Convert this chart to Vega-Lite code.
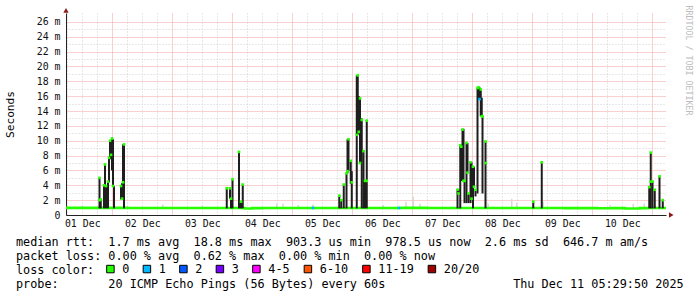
{
  "$schema": "https://vega.github.io/schema/vega-lite/v6.json",
  "width": 600,
  "height": 202,
  "autosize": {"type": "none"},
  "padding": {"left": 66, "top": 13, "right": 31, "bottom": 82},
  "background": "white",
  "config": {"view": {"stroke": null}, "font": "DejaVu Sans Mono"},
  "title": {
    "text": [
      "median rtt:\u00a0\u00a01.7 ms avg\u00a0\u00a018.8 ms max\u00a0\u00a0903.3 us min\u00a0\u00a0978.5 us now\u00a0\u00a02.6 ms sd\u00a0\u00a0646.7 m am/s",
      "packet loss: 0.00 % avg\u00a0\u00a00.62 % max\u00a0\u00a00.00 % min\u00a0\u00a00.00 % now",
      "loss color:",
      "probe:\u00a0\u00a0\u00a0\u00a0\u00a0\u00a0\u00a020 ICMP Echo Pings (56 Bytes) every 60s\u00a0\u00a0\u00a0\u00a0\u00a0\u00a0\u00a0\u00a0\u00a0\u00a0\u00a0\u00a0\u00a0\u00a0\u00a0\u00a0\u00a0\u00a0Thu Dec 11 05:29:50 2025"
    ],
    "orient": "bottom", "anchor": "start", "frame": "group", "align": "left", "baseline": "alphabetic",
    "dx": -50, "offset": -30.5,
    "font": "DejaVu Sans Mono", "fontSize": 11.8, "fontWeight": "normal", "color": "#000000", "lineHeight": 14.3
  },
  "datasets": {
    "baseline": [
      {"hour": 5.497, "v": 0.96}, {"hour": 30, "v": 0.95}, {"hour": 55, "v": 0.94}, {"hour": 77, "v": 0.87},
      {"hour": 80, "v": 0.92}, {"hour": 84, "v": 0.95}, {"hour": 110, "v": 0.95}, {"hour": 140, "v": 0.96},
      {"hour": 150, "v": 0.94}, {"hour": 185, "v": 0.95}, {"hour": 205, "v": 0.93}, {"hour": 218, "v": 0.9},
      {"hour": 224, "v": 0.93}, {"hour": 229, "v": 0.88}, {"hour": 235, "v": 0.92}, {"hour": 238, "v": 0.95},
      {"hour": 245.497, "v": 0.95}
    ],
    "smoke": [
      {"hour": 12, "lo": 0.95, "hi": 1.3}, {"hour": 44.2, "lo": 0.95, "hi": 1.4}, {"hour": 60, "lo": 0.95, "hi": 1.3},
      {"hour": 89.8, "lo": 0.95, "hi": 1.55}, {"hour": 92.3, "lo": 0.95, "hi": 1.5}, {"hour": 98.4, "lo": 0.95, "hi": 1.35},
      {"hour": 104.3, "lo": 0.95, "hi": 1.4}, {"hour": 132.4, "lo": 0.95, "hi": 1.35}, {"hour": 141.5, "lo": 0.95, "hi": 1.8},
      {"hour": 144.4, "lo": 0.95, "hi": 2.45}, {"hour": 147.1, "lo": 0.95, "hi": 1.5}, {"hour": 174.4, "lo": 0.95, "hi": 1.5},
      {"hour": 183.8, "lo": 0.95, "hi": 2.2}, {"hour": 185.8, "lo": 0.95, "hi": 1.6}, {"hour": 196.4, "lo": 0.95, "hi": 1.8},
      {"hour": 223.1, "lo": 0.95, "hi": 1.35}, {"hour": 232.4, "lo": 0.95, "hi": 1.5}, {"hour": 236.8, "lo": 0.95, "hi": 1.55}
    ],
    "spikes": [
      {"hour": 18.9, "lo": 0.9, "hi": 5.0}, {"hour": 19.4, "lo": 0.9, "hi": 2.2}, {"hour": 20.7, "lo": 0.9, "hi": 4.1},
      {"hour": 21.1, "lo": 3.9, "hi": 6.8}, {"hour": 21.5, "lo": 0.9, "hi": 4.0}, {"hour": 22.3, "lo": 0.9, "hi": 4.5},
      {"hour": 22.7, "lo": 4.4, "hi": 7.8}, {"hour": 23.1, "lo": 7.5, "hi": 10.1}, {"hour": 23.5, "lo": 7.9, "hi": 10.0},
      {"hour": 23.9, "lo": 6.0, "hi": 10.4}, {"hour": 24.3, "lo": 3.8, "hi": 10.2}, {"hour": 24.7, "lo": 0.9, "hi": 3.9},
      {"hour": 27.5, "lo": 2.1, "hi": 4.0}, {"hour": 27.9, "lo": 2.1, "hi": 4.3}, {"hour": 28.3, "lo": 4.3, "hi": 9.5},
      {"hour": 28.7, "lo": 0.9, "hi": 9.5},
      {"hour": 69.8, "lo": 0.9, "hi": 3.6}, {"hour": 71.1, "lo": 2.2, "hi": 3.6}, {"hour": 71.5, "lo": 0.9, "hi": 2.3},
      {"hour": 72.1, "lo": 0.9, "hi": 4.8}, {"hour": 74.7, "lo": 0.9, "hi": 8.5}, {"hour": 75.5, "lo": 0.9, "hi": 1.8},
      {"hour": 76.2, "lo": 0.9, "hi": 4.1},
      {"hour": 114.8, "lo": 0.9, "hi": 2.7}, {"hour": 115.6, "lo": 0.9, "hi": 2.1}, {"hour": 116.6, "lo": 0.9, "hi": 4.1},
      {"hour": 117.7, "lo": 0.9, "hi": 5.6}, {"hour": 118.1, "lo": 5.6, "hi": 10.2}, {"hour": 118.5, "lo": 5.9, "hi": 10.2},
      {"hour": 119.4, "lo": 4.2, "hi": 7.4}, {"hour": 119.8, "lo": 0.9, "hi": 5.9}, {"hour": 121.8, "lo": 0.9, "hi": 18.8},
      {"hour": 122.2, "lo": 10.8, "hi": 18.8}, {"hour": 122.6, "lo": 11.2, "hi": 16.0}, {"hour": 123.1, "lo": 7.0, "hi": 15.7},
      {"hour": 123.5, "lo": 7.0, "hi": 13.0}, {"hour": 123.8, "lo": 0.9, "hi": 13.0}, {"hour": 124.5, "lo": 0.9, "hi": 8.7},
      {"hour": 125.1, "lo": 0.9, "hi": 4.7}, {"hour": 125.8, "lo": 0.9, "hi": 12.8},
      {"hour": 162.1, "lo": 0.9, "hi": 3.4}, {"hour": 162.5, "lo": 2.8, "hi": 3.4}, {"hour": 163.2, "lo": 0.9, "hi": 9.5},
      {"hour": 163.6, "lo": 4.6, "hi": 9.5}, {"hour": 164.1, "lo": 4.6, "hi": 11.6}, {"hour": 164.5, "lo": 4.6, "hi": 11.6},
      {"hour": 164.9, "lo": 1.6, "hi": 4.6}, {"hour": 165.7, "lo": 1.6, "hi": 9.7}, {"hour": 166.1, "lo": 5.7, "hi": 9.7},
      {"hour": 166.5, "lo": 1.6, "hi": 2.9}, {"hour": 167.3, "lo": 1.6, "hi": 7.1}, {"hour": 167.7, "lo": 2.1, "hi": 7.1},
      {"hour": 168.3, "lo": 0.9, "hi": 6.5}, {"hour": 168.7, "lo": 3.8, "hi": 6.5}, {"hour": 169.3, "lo": 2.5, "hi": 3.4},
      {"hour": 170.1, "lo": 2.9, "hi": 17.1}, {"hour": 170.5, "lo": 15.5, "hi": 17.2}, {"hour": 170.9, "lo": 15.5, "hi": 17.2},
      {"hour": 171.4, "lo": 13.3, "hi": 16.9}, {"hour": 171.8, "lo": 13.3, "hi": 15.8}, {"hour": 172.1, "lo": 2.9, "hi": 13.3},
      {"hour": 173.3, "lo": 0.9, "hi": 9.9},
      {"hour": 192.4, "lo": 0.9, "hi": 1.8}, {"hour": 195.8, "lo": 0.9, "hi": 7.1},
      {"hour": 238.8, "lo": 0.9, "hi": 3.75}, {"hour": 239.4, "lo": 0.9, "hi": 8.4}, {"hour": 240.1, "lo": 0.9, "hi": 4.5},
      {"hour": 241.0, "lo": 0.9, "hi": 3.4}, {"hour": 242.9, "lo": 0.9, "hi": 5.2}, {"hour": 244.2, "lo": 0.9, "hi": 2.0}
    ],
    "medians": [
      {"hour": 18.9, "v": 5.0, "loss": "0"}, {"hour": 18.9, "v": 2.0, "loss": "0"}, {"hour": 19.4, "v": 2.1, "loss": "0"},
      {"hour": 20.7, "v": 4.0, "loss": "0"}, {"hour": 21.1, "v": 6.8, "loss": "0"}, {"hour": 21.5, "v": 3.9, "loss": "0"},
      {"hour": 22.3, "v": 4.5, "loss": "0"}, {"hour": 22.7, "v": 7.7, "loss": "0"}, {"hour": 23.1, "v": 10.0, "loss": "0"},
      {"hour": 23.5, "v": 8.1, "loss": "0"}, {"hour": 23.9, "v": 10.3, "loss": "0"}, {"hour": 24.3, "v": 3.9, "loss": "0"},
      {"hour": 27.5, "v": 3.9, "loss": "0"}, {"hour": 27.9, "v": 2.2, "loss": "0"}, {"hour": 28.3, "v": 4.4, "loss": "0"},
      {"hour": 28.7, "v": 9.5, "loss": "0"},
      {"hour": 69.8, "v": 3.6, "loss": "0"}, {"hour": 71.1, "v": 3.6, "loss": "0"}, {"hour": 71.5, "v": 2.2, "loss": "0"},
      {"hour": 72.1, "v": 4.8, "loss": "0"}, {"hour": 74.7, "v": 8.5, "loss": "0"}, {"hour": 75.5, "v": 1.8, "loss": "0"},
      {"hour": 76.2, "v": 4.1, "loss": "0"},
      {"hour": 114.8, "v": 2.6, "loss": "0"}, {"hour": 115.6, "v": 2.0, "loss": "0"}, {"hour": 116.6, "v": 4.1, "loss": "0"},
      {"hour": 117.7, "v": 5.6, "loss": "0"}, {"hour": 118.1, "v": 5.9, "loss": "0"}, {"hour": 118.5, "v": 10.2, "loss": "0"},
      {"hour": 119.4, "v": 7.3, "loss": "0"}, {"hour": 119.8, "v": 4.4, "loss": "0"}, {"hour": 121.8, "v": 10.8, "loss": "0"},
      {"hour": 122.2, "v": 18.8, "loss": "0"}, {"hour": 122.6, "v": 11.2, "loss": "0"}, {"hour": 123.1, "v": 15.7, "loss": "0"},
      {"hour": 123.1, "v": 7.0, "loss": "0"}, {"hour": 123.8, "v": 12.8, "loss": "0"}, {"hour": 124.5, "v": 8.6, "loss": "0"},
      {"hour": 125.1, "v": 4.6, "loss": "0"}, {"hour": 125.8, "v": 12.7, "loss": "0"}, {"hour": 125.8, "v": 4.6, "loss": "0"},
      {"hour": 162.1, "v": 3.4, "loss": "0"}, {"hour": 162.5, "v": 2.9, "loss": "0"}, {"hour": 163.2, "v": 9.4, "loss": "0"},
      {"hour": 163.6, "v": 9.2, "loss": "0"}, {"hour": 164.1, "v": 11.5, "loss": "0"}, {"hour": 164.5, "v": 4.6, "loss": "0"},
      {"hour": 164.9, "v": 4.6, "loss": "0"}, {"hour": 165.7, "v": 9.7, "loss": "0"}, {"hour": 166.1, "v": 5.7, "loss": "0"},
      {"hour": 166.5, "v": 2.9, "loss": "0"}, {"hour": 167.3, "v": 7.1, "loss": "0"}, {"hour": 167.7, "v": 2.2, "loss": "0"},
      {"hour": 168.3, "v": 6.5, "loss": "0"}, {"hour": 168.7, "v": 3.8, "loss": "0"}, {"hour": 169.3, "v": 3.4, "loss": "0"},
      {"hour": 170.1, "v": 17.1, "loss": "0"}, {"hour": 170.5, "v": 17.2, "loss": "0"}, {"hour": 170.9, "v": 15.6, "loss": "1"},
      {"hour": 171.4, "v": 16.9, "loss": "0"}, {"hour": 171.8, "v": 13.3, "loss": "0"}, {"hour": 172.1, "v": 13.3, "loss": "0"},
      {"hour": 173.3, "v": 9.9, "loss": "0"}, {"hour": 173.3, "v": 7.0, "loss": "0"},
      {"hour": 192.4, "v": 1.8, "loss": "0"}, {"hour": 195.8, "v": 7.1, "loss": "0"},
      {"hour": 238.8, "v": 3.75, "loss": "0"}, {"hour": 239.4, "v": 8.4, "loss": "0"}, {"hour": 239.4, "v": 4.5, "loss": "0"},
      {"hour": 240.1, "v": 4.5, "loss": "0"}, {"hour": 241.0, "v": 3.4, "loss": "0"}, {"hour": 242.9, "v": 5.2, "loss": "0"},
      {"hour": 244.2, "v": 2.0, "loss": "0"},
      {"hour": 104.3, "v": 0.95, "loss": "1"}, {"hour": 138.7, "v": 0.95, "loss": "1"}
    ],
    "arrowX": [{"hour": 247.6, "v": 0}],
    "arrowY": [{"hour": 5.497, "v": 27.55}]
  },
  "resolve": {"axis": {"x": "independent", "y": "independent"}},
  "layer": [
    {
      "data": {"name": "smoke"},
      "mark": {"type": "rule", "color": "#d9d9d9", "strokeWidth": 1.5},
      "encoding": {
        "x": {
          "field": "hour", "type": "quantitative",
          "scale": {"domain": [5.497, 245.497], "nice": false, "zero": false},
          "axis": {
            "orient": "bottom",
            "values": [6,12,18,24,30,36,42,48,54,60,66,72,78,84,90,96,102,108,114,120,126,132,138,144,150,156,162,168,174,180,186,192,198,204,210,216,222,228,234,240],
            "grid": true,
            "gridColor": {"condition": {"test": "datum.value % 24 === 0", "value": "#f0a0a0"}, "value": "#d0d0d0"},
            "gridDash": {"condition": {"test": "datum.value % 24 === 0", "value": [1, 1]}, "value": [1, 2]},
            "gridWidth": 1,
            "ticks": false,
            "domain": true, "domainColor": "#222222", "domainWidth": 1,
            "labelExpr": "datum.value % 24 === 12 ? (datum.value < 228 ? '0' : '') + ((datum.value - 12) / 24 + 1) + ' Dec' : ''",
            "labelFont": "DejaVu Sans Mono", "labelFontSize": 9.9, "labelColor": "#111111",
            "labelPadding": 3, "labelFlush": false, "labelOverlap": false, "labelBound": false,
            "title": null
          }
        },
        "y": {
          "field": "lo", "type": "quantitative",
          "scale": {"domain": [0, 27.2], "nice": false},
          "axis": {
            "orient": "left",
            "values": [0,1,2,3,4,5,6,7,8,9,10,11,12,13,14,15,16,17,18,19,20,21,22,23,24,25,26],
            "grid": true,
            "gridColor": {"condition": {"test": "datum.value % 2 === 0", "value": "#f0a0a0"}, "value": "#d0d0d0"},
            "gridDash": {"condition": {"test": "datum.value % 2 === 0", "value": [1, 1]}, "value": [1, 2]},
            "gridWidth": 1,
            "ticks": false,
            "domain": true, "domainColor": "#222222", "domainWidth": 1,
            "labelExpr": "datum.value === 0 ? '0' : (datum.value % 2 === 0 ? datum.value + ' m' : '')",
            "labelFont": "DejaVu Sans Mono", "labelFontSize": 9.9, "labelColor": "#111111",
            "labelPadding": 6, "labelFlush": false, "labelOverlap": false, "labelBound": false,
            "title": "Seconds",
            "titleFont": "DejaVu Sans Mono", "titleFontSize": 11.2, "titleFontWeight": "normal", "titleColor": "#000000",
            "titleAngle": -90, "titleX": -56, "titleY": 101, "titleAlign": "center", "titleBaseline": "middle"
          }
        },
        "y2": {"field": "hi"}
      }
    },
    {
      "data": {"name": "baseline"},
      "mark": {"type": "line", "color": "#26ff00", "strokeWidth": 2.6, "interpolate": "step-after"},
      "encoding": {
        "x": {"field": "hour", "type": "quantitative", "scale": {"domain": [5.497, 245.497], "nice": false, "zero": false}, "axis": null},
        "y": {"field": "v", "type": "quantitative", "scale": {"domain": [0, 27.2], "nice": false}, "axis": null}
      }
    },
    {
      "data": {"name": "spikes"},
      "mark": {"type": "rule", "color": "#1e1e1e", "strokeWidth": 2},
      "encoding": {
        "x": {"field": "hour", "type": "quantitative", "scale": {"domain": [5.497, 245.497], "nice": false, "zero": false}, "axis": null},
        "y": {"field": "lo", "type": "quantitative", "scale": {"domain": [0, 27.2], "nice": false}, "axis": null},
        "y2": {"field": "hi"}
      }
    },
    {
      "data": {"name": "medians"},
      "mark": {"type": "square", "size": 7, "opacity": 1},
      "encoding": {
        "x": {"field": "hour", "type": "quantitative", "scale": {"domain": [5.497, 245.497], "nice": false, "zero": false}, "axis": null},
        "y": {"field": "v", "type": "quantitative", "scale": {"domain": [0, 27.2], "nice": false}, "axis": null},
        "color": {
          "field": "loss", "type": "nominal",
          "scale": {
            "domain": ["0", "1", "2", "3", "4-5", "6-10", "11-19", "20/20"],
            "range": ["#26ff00", "#00b8ff", "#0059ff", "#7600ff", "#ff00ff", "#ff5500", "#ff0000", "#a00000"]
          },
          "legend": {
            "orient": "none", "legendX": 38.5, "legendY": 250, "direction": "horizontal", "title": null,
            "symbolType": "square", "symbolSize": 56, "symbolStrokeColor": "#000000", "symbolStrokeWidth": 1, "symbolOpacity": 1,
            "labelFont": "DejaVu Sans Mono", "labelFontSize": 11.8, "labelColor": "#000000",
            "labelOffset": 6, "columnPadding": 11.5, "padding": 0
          }
        }
      }
    },
    {
      "data": {"name": "arrowX"},
      "mark": {"type": "point", "shape": "triangle-right", "filled": true, "size": 28, "color": "#8b1c1c", "opacity": 1},
      "encoding": {
        "x": {"field": "hour", "type": "quantitative", "scale": {"domain": [5.497, 245.497], "nice": false, "zero": false}, "axis": null},
        "y": {"field": "v", "type": "quantitative", "scale": {"domain": [0, 27.2], "nice": false}, "axis": null}
      }
    },
    {
      "data": {"name": "arrowY"},
      "mark": {"type": "point", "shape": "triangle-up", "filled": true, "size": 28, "color": "#8b1c1c", "opacity": 1},
      "encoding": {
        "x": {"field": "hour", "type": "quantitative", "scale": {"domain": [5.497, 245.497], "nice": false, "zero": false}, "axis": null},
        "y": {
          "field": "v", "type": "quantitative", "scale": {"domain": [0, 27.2], "nice": false},
          "axis": {
            "orient": "right", "labels": false, "ticks": false, "domain": false, "grid": false,
            "title": "RRDTOOL / TOBI OETIKER",
            "titleFont": "DejaVu Sans Mono", "titleFontSize": 8.3, "titleFontWeight": "normal", "titleColor": "#bdbdbd",
            "titleAngle": 90, "titleX": 21, "titleY": 47, "titleAlign": "center", "titleBaseline": "middle"
          }
        }
      }
    }
  ]
}
